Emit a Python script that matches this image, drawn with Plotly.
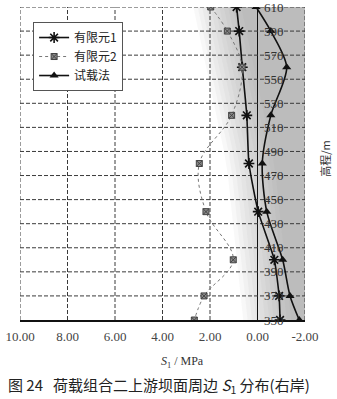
import numpy as np
import plotly.graph_objects as go

# Elevation of the sampling points along the upstream dam face (m)
elev = [610, 590, 560, 520, 480, 440, 400, 370, 350]

# Stress S1 (MPa) for each method
fem1 = [0.88, 0.77, 0.64, 0.45, 0.36, -0.03, -0.71, -0.91, -0.95]
fem2 = [1.97, 1.27, 0.65, 1.09, 2.45, 2.17, 1.02, 2.25, 2.66]
trial = [0.06, -0.56, -1.23, -0.56, -0.20, -0.39, -1.06, -1.37, -1.76]

names = ["有限元1", "有限元2", "试载法"]
x_ticks = [10, 8, 6, 4, 2, 0, -2]
x_tick_text = ["10.00", "8.00", "6.00", "4.00", "2.00", "0.00", "-2.00"]
y_ticks = list(range(350, 611, 20))

SERIF = "Liberation Serif, DejaVu Serif, serif"
CJK = "Noto Sans CJK SC, sans-serif"

X_MIN, X_MAX = min(x_ticks), max(x_ticks)
Y_MIN, Y_MAX = min(y_ticks), max(y_ticks)

fig = go.Figure()

# Short-dash grid at every tick (the zero line is drawn solid by the axis)
gx, gy = [], []
for xv in x_ticks:
    if xv != 0:
        gx += [xv, xv, None]
        gy += [Y_MIN, Y_MAX, None]
for yv in y_ticks:
    if yv != Y_MIN:
        gx += [X_MAX, X_MIN, None]
        gy += [yv, yv, None]
fig.add_trace(go.Scatter(
    x=gx, y=gy, mode="lines", showlegend=False, hoverinfo="skip",
    line=dict(color="#3a3a3a", width=1, dash="4px,2px"), cliponaxis=False,
))

fig.add_trace(go.Scatter(
    x=fem1, y=elev, name=names[0], mode="lines+markers",
    line=dict(color="#111", width=1.6, shape="spline", smoothing=0.5),
    marker=dict(symbol="asterisk-open", size=9, color="#111",
                line=dict(color="#111", width=1.6)),
))
fig.add_trace(go.Scatter(
    x=fem2, y=elev, name=names[1], mode="lines+markers",
    line=dict(color="#777", width=1, dash="dot", shape="spline", smoothing=1.0),
    marker=dict(symbol="square-x", size=6, color="#8a8a8a",
                line=dict(color="#444", width=1)),
))
fig.add_trace(go.Scatter(
    x=trial, y=elev, name=names[2], mode="lines+markers",
    line=dict(color="#111", width=1.6, shape="spline", smoothing=0.8),
    marker=dict(symbol="triangle-up", size=8, color="#111"),
))

# Grey printed tone: nested translucent bands that darken toward the right edge
band_y = np.linspace(Y_MIN, Y_MAX, 14)
band_edge = np.interp(band_y, [350, 480, 610], [0.6, 1.3, 2.7])
n_bands = 12
band_step = 2.2 / n_bands
shapes = []
for k in range(n_bands):
    left = band_edge - k * band_step
    pts = [f"{max(xv, X_MIN):.3f},{yv:.1f}" for xv, yv in zip(left, band_y)]
    path = f"M {X_MIN},{Y_MIN} L " + " L ".join(pts) + f" L {X_MIN},{Y_MAX} Z"
    shapes.append(dict(
        type="path", path=path, xref="x", yref="y", layer="below",
        fillcolor="rgb(120,120,120)", opacity=0.05, line=dict(width=0),
    ))

# Elevation labels sit just inside the right border of the plot
elev_labels = [
    dict(text=str(v), xref="paper", yref="y", x=1, y=v, xanchor="right",
         yanchor="middle", xshift=-19, showarrow=False,
         font=dict(family=SERIF, size=13, color="#333"))
    for v in y_ticks
]

fig.update_layout(
    template="none",
    width=337, height=399,
    margin=dict(l=20, r=32, t=7, b=79),
    paper_bgcolor="white", plot_bgcolor="white",
    showlegend=True,
    legend=dict(
        x=0.046, y=0.952, xanchor="left", yanchor="top",
        bgcolor="white", bordercolor="#555", borderwidth=1,
        font=dict(family=CJK, size=12, color="#222"),
        tracegroupgap=0, itemwidth=30,
    ),
    xaxis=dict(
        range=[X_MAX, X_MIN - 0.0001], tickmode="array", tickvals=x_ticks,
        ticktext=x_tick_text, showgrid=False,
        zeroline=True, zerolinecolor="#111", zerolinewidth=1,
        showline=True, linecolor="#111", linewidth=1.5, mirror=False,
        ticks="", tickfont=dict(family=SERIF, size=13, color="#444"),
        ticklabelstandoff=4,
    ),
    yaxis=dict(
        range=[Y_MIN, Y_MAX], tickmode="array", tickvals=y_ticks,
        showticklabels=False, showgrid=False, zeroline=False,
        showline=False, ticks="",
    ),
    shapes=shapes,
    annotations=elev_labels + [
        dict(text="<i>S</i><sub>1</sub> / MPa", xref="paper", yref="paper",
             x=0.57, y=-0.134, xanchor="center", yanchor="middle",
             showarrow=False, font=dict(family=SERIF, size=12, color="#333")),
        dict(text="高程/m", xref="paper", yref="paper",
             x=1.07, y=0.518, xanchor="center", yanchor="middle",
             textangle=-90, showarrow=False,
             font=dict(family=CJK, size=11, color="#333")),
        dict(text="图 24   荷载组合二上游坝面周边 <i>S</i><sub>1</sub> 分布(右岸)",
             xref="paper", yref="paper", x=-0.05, y=-0.208,
             xanchor="left", yanchor="middle", showarrow=False,
             font=dict(family=CJK, size=15, color="#222")),
    ],
)

fig.write_html("out.html")
